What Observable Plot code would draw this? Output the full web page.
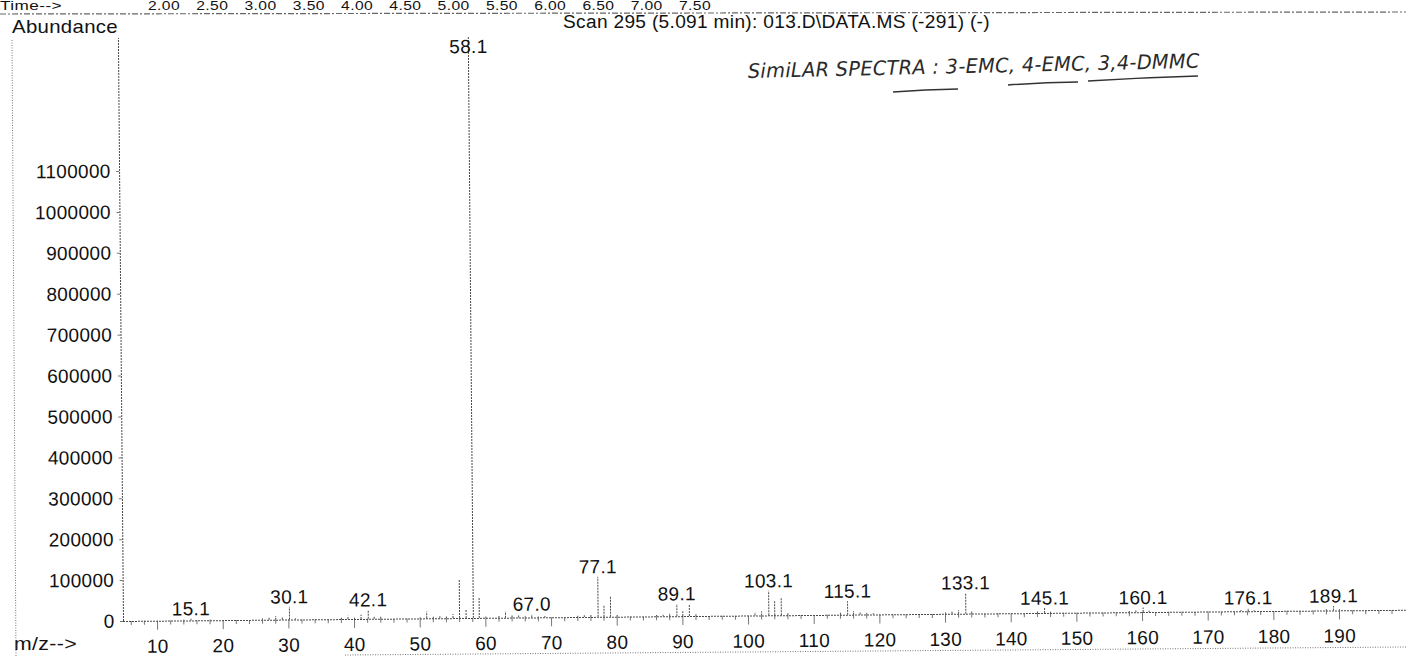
<!DOCTYPE html>
<html><head><meta charset="utf-8">
<script src="https://cdn.jsdelivr.net/npm/d3@7"></script>
<script src="https://cdn.jsdelivr.net/npm/@observablehq/plot@0.6"></script>
<style>
html,body{margin:0;padding:0;background:#fff;overflow:hidden;}
#wrap{position:relative;width:1406px;height:657px;}
#chart{position:absolute;left:0;top:0;transform:rotate(-0.5deg);transform-origin:123px 621px;}
#overlay{position:absolute;left:0;top:0;}
svg text{letter-spacing:0.3px;}
</style></head><body>
<div id="wrap"><div id="chart"></div><svg id="overlay" width="1406" height="657"></svg></div>
<script>
// ---- data ----
const mz = [14, 15.1, 18, 26, 27, 28, 29, 30.1, 31, 38, 39, 40, 41, 42.1, 43, 44, 50, 51, 52, 53, 54, 55, 56, 57, 58.1, 59, 60, 62, 63, 64, 65, 66, 67.0, 68, 69, 74, 75, 76, 77.1, 78, 79, 80, 86, 87, 88, 89.1, 90, 91, 92, 101, 102, 103.1, 104, 105, 106, 114, 115.1, 116, 117, 118, 119, 130, 131, 132, 133.1, 134, 144, 145.1, 146, 158, 159, 160.1, 161, 175, 176.1, 177, 188, 189.1, 190];
const abundance = [2000, 4000, 1500, 3000, 6000, 9000, 5000, 31000, 3000, 3000, 8000, 3000, 10000, 22000, 7000, 5000, 3000, 17000, 4000, 6000, 4000, 10000, 95000, 22000, 1420000, 49000, 3000, 4000, 15000, 5000, 6000, 3000, 8000, 2000, 3000, 3000, 4000, 6000, 98000, 29000, 51000, 4000, 3000, 4000, 8000, 30000, 12000, 28000, 4000, 8000, 10000, 60000, 36000, 42000, 5000, 5000, 33000, 9000, 5000, 4000, 3000, 3000, 5000, 9000, 51000, 6000, 4000, 12000, 3000, 3000, 4000, 11000, 3000, 3000, 8000, 2000, 3000, 11000, 3000];
const labeledMz = [15.1, 30.1, 42.1, 58.1, 67.0, 77.1, 89.1, 103.1, 115.1, 133.1, 145.1, 160.1, 176.1, 189.1];
const yTicks = [0, 100000, 200000, 300000, 400000, 500000, 600000, 700000, 800000, 900000, 1000000, 1100000];
const xMajor = [10, 20, 30, 40, 50, 60, 70, 80, 90, 100, 110, 120, 130, 140, 150, 160, 170, 180, 190];
const timeTicks = [2.00, 2.50, 3.00, 3.50, 4.00, 4.50, 5.00, 5.50, 6.00, 6.50, 7.00, 7.50];
const titleText = "Scan 295 (5.091 min): 013.D\\DATA.MS (-291) (-)";
const noteText = "SimiLAR SPECTRA : 3-EMC, 4-EMC, 3,4-DMMC";

const peaks = mz.map((m, i) => ({mz: m, ab: abundance[i]}));
const basePeak = peaks.reduce((a, b) => (b.ab > a.ab ? b : a));
const labels = peaks.filter(p => labeledMz.includes(p.mz) && p !== basePeak);
const xMinor = d3.range(6, 201, 2).filter(d => d % 10 !== 0);
const xDomain = [4.82, 200.2];
const yMax = 1425000;
const lineCol = "#4a4a4a";

const chart = Plot.plot({
  width: 1406, height: 657,
  marginLeft: 123, marginRight: 0, marginTop: 38, marginBottom: 36,
  x: {domain: xDomain, label: null},
  y: {domain: [0, yMax], label: null},
  style: {fontFamily: "'Liberation Sans', Arial, sans-serif", fontSize: "19px", color: "#111", background: "transparent"},
  marks: [
    Plot.axisY({ticks: yTicks, tickFormat: d => String(d), tickSize: 3, tickPadding: 6, label: null, stroke: "#777", fontSize: 19}),
    Plot.axisX({ticks: xMinor, tickSize: 4, tickFormat: () => "", label: null, stroke: "#777"}),
    Plot.axisX({ticks: xMajor, tickSize: 9, tickPadding: 9, tickFormat: d => String(d), label: null, stroke: "#777", fontSize: 19}),
    Plot.ruleY([0], {stroke: lineCol, strokeDasharray: "2,1"}),
    Plot.ruleX([xDomain[0]], {y1: 0, y2: yMax, stroke: lineCol, strokeDasharray: "2,1"}),
    Plot.ruleX(peaks, {x: "mz", y1: 0, y2: "ab", stroke: lineCol, strokeWidth: 1, strokeDasharray: "2,1"}),
    Plot.text(labels, {x: "mz", y: "ab", text: d => d.mz.toFixed(1), lineAnchor: "bottom", dy: -4, fontSize: 19, fill: "#111"}),
    Plot.text([basePeak], {x: "mz", y: () => yMax, text: d => d.mz.toFixed(1), lineAnchor: "top", dy: 4, fontSize: 19, fill: "#111"})
  ]
});
document.getElementById("chart").appendChild(chart);

// ---- header / annotation overlay (scan header, handwritten note, frame) ----
const ov = d3.select("#overlay");
const F = "'Liberation Sans', Arial, sans-serif";
const timeX = d3.scaleLinear([2, 7.5], [164, 695]);
ov.append("text").attr("x", 0).attr("y", 10).attr("font-family", F).attr("font-size", 12).attr("fill", "#111")
  .attr("textLength", 62).attr("lengthAdjust", "spacingAndGlyphs").text("Time-->");
ov.selectAll("text.tt").data(timeTicks).join("text").attr("class", "tt")
  .attr("x", d => timeX(d)).attr("y", 10).attr("text-anchor", "middle")
  .attr("font-family", F).attr("font-size", 12).attr("fill", "#111")
  .attr("textLength", 32).attr("lengthAdjust", "spacingAndGlyphs").text(d => d.toFixed(2));
ov.append("line").attr("x1", 0).attr("y1", 14).attr("x2", 1406).attr("y2", 12)
  .attr("stroke", "#666").attr("stroke-width", 1.2).attr("stroke-dasharray", "6,2,2,2");
ov.append("text").attr("x", 12).attr("y", 33).attr("font-family", F).attr("font-size", 19).attr("fill", "#111")
  .attr("textLength", 106).attr("lengthAdjust", "spacingAndGlyphs").text("Abundance");
ov.append("text").attr("x", 563).attr("y", 28).attr("font-family", F).attr("font-size", 18).attr("fill", "#111")
  .attr("textLength", 427).attr("lengthAdjust", "spacingAndGlyphs").text(titleText);
ov.append("text").attr("x", 14).attr("y", 650).attr("font-family", F).attr("font-size", 18).attr("fill", "#111")
  .attr("textLength", 63).attr("lengthAdjust", "spacingAndGlyphs").text("m/z-->");
// frame lines
ov.append("line").attr("x1", 12).attr("y1", 40).attr("x2", 16).attr("y2", 657)
  .attr("stroke", "#777").attr("stroke-dasharray", "1,1.5");
ov.append("line").attr("x1", 345).attr("y1", 655).attr("x2", 1406).attr("y2", 647)
  .attr("stroke", "#777").attr("stroke-dasharray", "1,1.5");
// handwritten note
const note = ov.append("g").attr("transform", "rotate(-1.3 748 78)");
note.append("text").attr("x", 748).attr("y", 78)
  .attr("font-family", "'DejaVu Sans', sans-serif").attr("font-style", "italic").attr("font-size", 20)
  .attr("fill", "#2a2a2a").attr("textLength", 452).attr("lengthAdjust", "spacingAndGlyphs").text(noteText);
const underlines = [[893, 92, 958, 89], [1008, 85, 1078, 82], [1088, 81, 1198, 76]];
ov.selectAll("path.ul").data(underlines).join("path").attr("class", "ul")
  .attr("d", d => `M${d[0]},${d[1]} Q${(d[0]+d[2])/2},${(d[1]+d[3])/2 - 1} ${d[2]},${d[3]}`)
  .attr("fill", "none").attr("stroke", "#333").attr("stroke-width", 1.5);
</script>
</body></html>
